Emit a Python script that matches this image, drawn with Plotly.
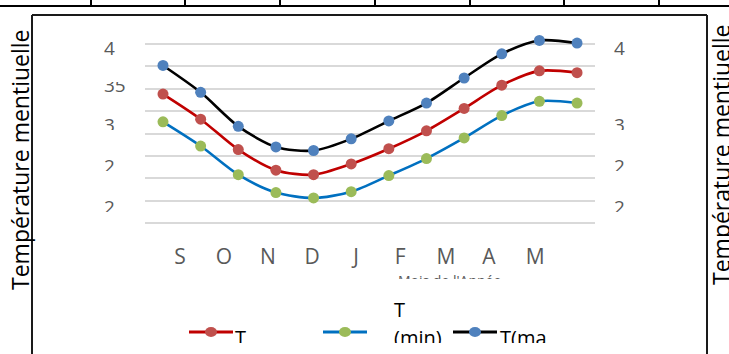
import plotly.graph_objects as go

W, H = 729, 354

# Monthly temperature series (twelve months)
months_idx = list(range(12))
t_max = [37.6, 34.6, 30.8, 28.5, 28.1, 29.4, 31.4, 33.4, 36.2, 38.9, 40.4, 40.1]
t_moy = [34.4, 31.6, 28.2, 25.9, 25.4, 26.6, 28.3, 30.3, 32.8, 35.4, 37.0, 36.8]
t_min = [31.3, 28.6, 25.4, 23.4, 22.8, 23.5, 25.3, 27.2, 29.5, 32.0, 33.6, 33.4]

# Category labels on the x axis
month_labels = ["S", "O", "N", "D", "J", "F", "M", "A", "M"]
month_tick_pos = [0.45, 1.62, 2.79, 3.96, 5.13, 6.30, 7.52, 8.66, 9.89]

# Value labels beside the grid (left and right)
ylab_left = ["4", "35", "3", "2", "2"]
ylab_right = ["4", "3", "2", "2"]

legend_names = ["T", "T", "(min)", "T(ma"]
axis_title = "Température mentiuelle"
x_title = "Mois de l'Année"

GRID = "#D9D9D9"
TICK_GREY = "#595959"
FONT = "Open Sans"
CLEAR = "rgba(0,0,0,0)"


def px(x):
    return x / W


def py(y):
    return 1 - y / H


fig = go.Figure()

series = [
    (t_moy, "#C00000", "#C0504D"),
    (t_min, "#0070C0", "#9BBB59"),
    (t_max, "#000000", "#4F81BD"),
]
for vals, lc, mc in series:
    fig.add_trace(go.Scatter(
        x=months_idx, y=vals, mode="lines+markers",
        line=dict(color=lc, width=2.6, shape="spline", smoothing=0.8),
        marker=dict(color=mc, size=11),
        cliponaxis=False, showlegend=False, hoverinfo="skip",
    ))

# plot area in pixels: x 145..595, y 30..235 ; grid 20..40 step 2.5
x_left, x_right = 145, 595
y_top, y_bot = 30, 235
pix_per_unit = 8.95
v_top = 40 + (44 - y_top) / pix_per_unit
v_bot = 40 - (y_bot - 44) / pix_per_unit
i0, step = 163, 37.64

fig.update_layout(
    width=W, height=H, margin=dict(l=0, r=0, t=0, b=0),
    paper_bgcolor="white", plot_bgcolor=CLEAR,
    xaxis=dict(domain=[px(x_left), px(x_right)],
               range=[(x_left - i0) / step, (x_right - i0) / step],
               showgrid=False, zeroline=False, showline=False, ticks="",
               tickvals=month_tick_pos, ticktext=month_labels,
               tickfont=dict(family=FONT, size=21, color=TICK_GREY),
               ticklabelstandoff=7),
    yaxis=dict(domain=[py(y_bot), py(y_top)], range=[v_bot, v_top],
               tick0=0, dtick=2.5, showgrid=True, gridcolor=GRID, gridwidth=1.6,
               zeroline=False, showline=False, showticklabels=False, ticks=""),
    showlegend=False,
)

# clipped text bands (each band is its own invisible subplot)
bands = []


def add_band(ytop, ybot, xs, ys, texts, size, color, pos="middle right"):
    n = len(bands) + 2
    bands.append(n)
    fig.update_layout(**{
        f"xaxis{n}": dict(domain=[0, 1], range=[0, W], visible=False, anchor=f"y{n}"),
        f"yaxis{n}": dict(domain=[py(ybot), py(ytop)], range=[ybot, ytop],
                          visible=False, anchor=f"x{n}"),
    })
    fig.add_trace(go.Scatter(
        x=xs, y=ys, text=texts, mode="text", textposition=pos,
        textfont=dict(family=FONT, size=size, color=color),
        xaxis=f"x{n}", yaxis=f"y{n}", cliponaxis=True,
        showlegend=False, hoverinfo="skip",
    ))


# left / right value labels
add_band(35, 62, [104, 614], [50, 50], [ylab_left[0], ylab_right[0]], 19, TICK_GREY)
add_band(82, 100, [104], [87], [ylab_left[1]], 19, TICK_GREY)
add_band(110, 130, [104, 614], [127, 127], [ylab_left[2], ylab_right[1]], 19, TICK_GREY)
add_band(150, 171, [104, 614], [168, 168], [ylab_left[3], ylab_right[2]], 19, TICK_GREY)
add_band(190, 212, [104, 614], [209, 209], [ylab_left[4], ylab_right[3]], 19, TICK_GREY)
# axis title fragment under the month labels
add_band(273, 279, [398], [282], [x_title], 14, TICK_GREY)
# legend text
add_band(298, 343, [235, 394, 394, 500], [340, 312, 340, 340],
         legend_names, 20, "black")

shapes = []
# legend samples
for (x0, x1, lc, mc) in [(189, 233, "#C00000", "#C0504D"),
                         (323, 367, "#0070C0", "#9BBB59"),
                         (453, 497, "#000000", "#4F81BD")]:
    shapes.append(dict(type="line", xref="paper", yref="paper",
                       x0=px(x0), x1=px(x1), y0=py(332), y1=py(332),
                       line=dict(color=lc, width=3)))
    cx = (x0 + x1) / 2
    shapes.append(dict(type="circle", xref="paper", yref="paper",
                       x0=px(cx - 6), x1=px(cx + 6), y0=py(337), y1=py(327),
                       fillcolor=mc, line=dict(width=0)))

# outer frame of the chart object
for (x0, y0, x1, y1) in [(32, 15, 707, 15), (32, 15, 32, H), (707, 15, 707, H)]:
    shapes.append(dict(type="line", xref="paper", yref="paper",
                       x0=px(x0), x1=px(x1), y0=py(y0), y1=py(y1),
                       line=dict(color="#1a1a1a", width=2)))
# table rule above
shapes.append(dict(type="line", xref="paper", yref="paper",
                   x0=0, x1=1, y0=py(6), y1=py(6),
                   line=dict(color="black", width=2)))
for xv in [91, 185, 280, 375, 470, 564, 659]:
    shapes.append(dict(type="line", xref="paper", yref="paper",
                       x0=px(xv), x1=px(xv), y0=py(0), y1=py(6),
                       line=dict(color="black", width=2)))
fig.update_layout(shapes=shapes)

# vertical axis titles on both sides
fig.add_annotation(text=axis_title, x=px(20), y=py(160), xref="paper", yref="paper",
                   xanchor="center", yanchor="middle",
                   textangle=-90, showarrow=False,
                   font=dict(family=FONT, size=23, color="black"))
fig.add_annotation(text=axis_title, x=px(721), y=py(155), xref="paper", yref="paper",
                   xanchor="center", yanchor="middle",
                   textangle=-90, showarrow=False,
                   font=dict(family=FONT, size=23, color="black"))

fig.write_html("out.html")
